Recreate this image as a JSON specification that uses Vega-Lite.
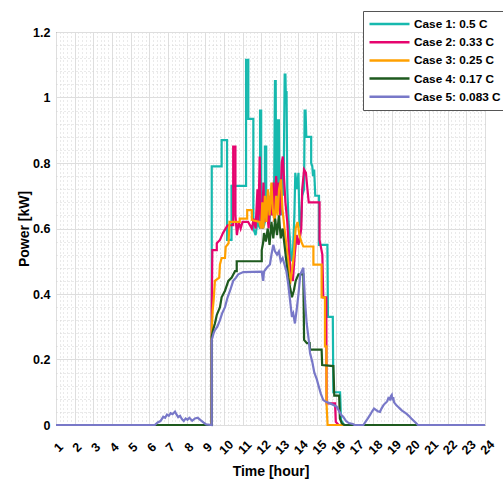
{
  "$schema": "https://vega.github.io/schema/vega-lite/v6.json",
  "width": 429,
  "height": 393,
  "autosize": {"type": "none"},
  "padding": {"left": 56, "top": 32, "right": 18, "bottom": 55},
  "background": "white",
  "config": {
    "view": {"stroke": "#404040", "strokeWidth": 1},
    "font": "Liberation Sans",
    "axis": {
      "labelFont": "Liberation Sans",
      "labelFontWeight": "bold",
      "labelFontSize": 12.5,
      "labelColor": "#000000",
      "titleFont": "Liberation Sans",
      "titleFontWeight": "bold",
      "titleFontSize": 14,
      "titleColor": "#000000",
      "domain": false,
      "ticks": false
    }
  },
  "data": {
    "values": [
      {"case": "Case 1: 0.5 C", "hour": 1, "kw": 0},
      {"case": "Case 1: 0.5 C", "hour": 9.35, "kw": 0},
      {"case": "Case 1: 0.5 C", "hour": 9.35, "kw": 0.79},
      {"case": "Case 1: 0.5 C", "hour": 9.88, "kw": 0.79},
      {"case": "Case 1: 0.5 C", "hour": 9.88, "kw": 0.87},
      {"case": "Case 1: 0.5 C", "hour": 10.17, "kw": 0.87},
      {"case": "Case 1: 0.5 C", "hour": 10.17, "kw": 0.565},
      {"case": "Case 1: 0.5 C", "hour": 10.41, "kw": 0.565},
      {"case": "Case 1: 0.5 C", "hour": 10.41, "kw": 0.73},
      {"case": "Case 1: 0.5 C", "hour": 11.19, "kw": 0.73},
      {"case": "Case 1: 0.5 C", "hour": 11.19, "kw": 1.115},
      {"case": "Case 1: 0.5 C", "hour": 11.31, "kw": 1.115},
      {"case": "Case 1: 0.5 C", "hour": 11.31, "kw": 0.935},
      {"case": "Case 1: 0.5 C", "hour": 11.58, "kw": 0.935},
      {"case": "Case 1: 0.5 C", "hour": 11.58, "kw": 0.6},
      {"case": "Case 1: 0.5 C", "hour": 11.7, "kw": 0.58},
      {"case": "Case 1: 0.5 C", "hour": 11.8, "kw": 0.62},
      {"case": "Case 1: 0.5 C", "hour": 11.94, "kw": 0.6},
      {"case": "Case 1: 0.5 C", "hour": 11.94, "kw": 0.96},
      {"case": "Case 1: 0.5 C", "hour": 12.0, "kw": 0.96},
      {"case": "Case 1: 0.5 C", "hour": 12.0, "kw": 0.64},
      {"case": "Case 1: 0.5 C", "hour": 12.1, "kw": 0.6},
      {"case": "Case 1: 0.5 C", "hour": 12.2, "kw": 0.62},
      {"case": "Case 1: 0.5 C", "hour": 12.2, "kw": 0.85},
      {"case": "Case 1: 0.5 C", "hour": 12.27, "kw": 0.85},
      {"case": "Case 1: 0.5 C", "hour": 12.27, "kw": 0.63},
      {"case": "Case 1: 0.5 C", "hour": 12.38, "kw": 0.68},
      {"case": "Case 1: 0.5 C", "hour": 12.45, "kw": 0.62},
      {"case": "Case 1: 0.5 C", "hour": 12.55, "kw": 0.72},
      {"case": "Case 1: 0.5 C", "hour": 12.62, "kw": 0.64},
      {"case": "Case 1: 0.5 C", "hour": 12.7, "kw": 0.75},
      {"case": "Case 1: 0.5 C", "hour": 12.74, "kw": 1.05},
      {"case": "Case 1: 0.5 C", "hour": 12.78, "kw": 1.05},
      {"case": "Case 1: 0.5 C", "hour": 12.8, "kw": 0.72},
      {"case": "Case 1: 0.5 C", "hour": 12.86, "kw": 0.66},
      {"case": "Case 1: 0.5 C", "hour": 12.9, "kw": 0.93},
      {"case": "Case 1: 0.5 C", "hour": 12.95, "kw": 0.93},
      {"case": "Case 1: 0.5 C", "hour": 12.98, "kw": 0.7},
      {"case": "Case 1: 0.5 C", "hour": 13.05, "kw": 0.64},
      {"case": "Case 1: 0.5 C", "hour": 13.12, "kw": 0.78},
      {"case": "Case 1: 0.5 C", "hour": 13.2, "kw": 0.7},
      {"case": "Case 1: 0.5 C", "hour": 13.26, "kw": 1.07},
      {"case": "Case 1: 0.5 C", "hour": 13.3, "kw": 1.07},
      {"case": "Case 1: 0.5 C", "hour": 13.33, "kw": 0.98},
      {"case": "Case 1: 0.5 C", "hour": 13.36, "kw": 1.02},
      {"case": "Case 1: 0.5 C", "hour": 13.4, "kw": 0.72},
      {"case": "Case 1: 0.5 C", "hour": 13.47, "kw": 0.62},
      {"case": "Case 1: 0.5 C", "hour": 13.55, "kw": 0.56},
      {"case": "Case 1: 0.5 C", "hour": 13.62, "kw": 0.5},
      {"case": "Case 1: 0.5 C", "hour": 13.7, "kw": 0.52},
      {"case": "Case 1: 0.5 C", "hour": 13.78, "kw": 0.64},
      {"case": "Case 1: 0.5 C", "hour": 13.83, "kw": 0.77},
      {"case": "Case 1: 0.5 C", "hour": 13.92, "kw": 0.72},
      {"case": "Case 1: 0.5 C", "hour": 14.0, "kw": 0.77},
      {"case": "Case 1: 0.5 C", "hour": 14.05, "kw": 0.62},
      {"case": "Case 1: 0.5 C", "hour": 14.12, "kw": 0.6},
      {"case": "Case 1: 0.5 C", "hour": 14.2, "kw": 0.7},
      {"case": "Case 1: 0.5 C", "hour": 14.3, "kw": 0.72},
      {"case": "Case 1: 0.5 C", "hour": 14.33, "kw": 0.96},
      {"case": "Case 1: 0.5 C", "hour": 14.38, "kw": 0.96},
      {"case": "Case 1: 0.5 C", "hour": 14.42, "kw": 0.88},
      {"case": "Case 1: 0.5 C", "hour": 14.68, "kw": 0.88},
      {"case": "Case 1: 0.5 C", "hour": 14.68, "kw": 0.8},
      {"case": "Case 1: 0.5 C", "hour": 14.74, "kw": 0.79},
      {"case": "Case 1: 0.5 C", "hour": 14.78, "kw": 0.76},
      {"case": "Case 1: 0.5 C", "hour": 14.84, "kw": 0.78},
      {"case": "Case 1: 0.5 C", "hour": 14.9, "kw": 0.7},
      {"case": "Case 1: 0.5 C", "hour": 15.1, "kw": 0.7},
      {"case": "Case 1: 0.5 C", "hour": 15.1, "kw": 0.55},
      {"case": "Case 1: 0.5 C", "hour": 15.55, "kw": 0.55},
      {"case": "Case 1: 0.5 C", "hour": 15.58, "kw": 0.33},
      {"case": "Case 1: 0.5 C", "hour": 15.84, "kw": 0.33},
      {"case": "Case 1: 0.5 C", "hour": 15.87, "kw": 0.1},
      {"case": "Case 1: 0.5 C", "hour": 16.23, "kw": 0.1},
      {"case": "Case 1: 0.5 C", "hour": 16.28, "kw": 0.015},
      {"case": "Case 1: 0.5 C", "hour": 16.45, "kw": 0},
      {"case": "Case 1: 0.5 C", "hour": 24, "kw": 0},

      {"case": "Case 2: 0.33 C", "hour": 1, "kw": 0},
      {"case": "Case 2: 0.33 C", "hour": 9.35, "kw": 0},
      {"case": "Case 2: 0.33 C", "hour": 9.35, "kw": 0.35},
      {"case": "Case 2: 0.33 C", "hour": 9.38, "kw": 0.534},
      {"case": "Case 2: 0.33 C", "hour": 9.62, "kw": 0.534},
      {"case": "Case 2: 0.33 C", "hour": 9.62, "kw": 0.555},
      {"case": "Case 2: 0.33 C", "hour": 9.79, "kw": 0.565},
      {"case": "Case 2: 0.33 C", "hour": 9.95, "kw": 0.586},
      {"case": "Case 2: 0.33 C", "hour": 10.2, "kw": 0.61},
      {"case": "Case 2: 0.33 C", "hour": 10.5, "kw": 0.61},
      {"case": "Case 2: 0.33 C", "hour": 10.5, "kw": 0.85},
      {"case": "Case 2: 0.33 C", "hour": 10.62, "kw": 0.85},
      {"case": "Case 2: 0.33 C", "hour": 10.62, "kw": 0.64},
      {"case": "Case 2: 0.33 C", "hour": 10.7, "kw": 0.58},
      {"case": "Case 2: 0.33 C", "hour": 10.8, "kw": 0.62},
      {"case": "Case 2: 0.33 C", "hour": 10.9, "kw": 0.6},
      {"case": "Case 2: 0.33 C", "hour": 11.0, "kw": 0.62},
      {"case": "Case 2: 0.33 C", "hour": 11.3, "kw": 0.62},
      {"case": "Case 2: 0.33 C", "hour": 11.5, "kw": 0.6},
      {"case": "Case 2: 0.33 C", "hour": 11.6, "kw": 0.63},
      {"case": "Case 2: 0.33 C", "hour": 11.7, "kw": 0.6},
      {"case": "Case 2: 0.33 C", "hour": 11.8, "kw": 0.72},
      {"case": "Case 2: 0.33 C", "hour": 11.85, "kw": 0.62},
      {"case": "Case 2: 0.33 C", "hour": 11.92, "kw": 0.82},
      {"case": "Case 2: 0.33 C", "hour": 11.97, "kw": 0.65},
      {"case": "Case 2: 0.33 C", "hour": 12.05, "kw": 0.6},
      {"case": "Case 2: 0.33 C", "hour": 12.12, "kw": 0.74},
      {"case": "Case 2: 0.33 C", "hour": 12.18, "kw": 0.62},
      {"case": "Case 2: 0.33 C", "hour": 12.3, "kw": 0.66},
      {"case": "Case 2: 0.33 C", "hour": 12.4, "kw": 0.6},
      {"case": "Case 2: 0.33 C", "hour": 12.5, "kw": 0.7},
      {"case": "Case 2: 0.33 C", "hour": 12.58, "kw": 0.64},
      {"case": "Case 2: 0.33 C", "hour": 12.65, "kw": 0.74},
      {"case": "Case 2: 0.33 C", "hour": 12.72, "kw": 0.62},
      {"case": "Case 2: 0.33 C", "hour": 12.8, "kw": 0.76},
      {"case": "Case 2: 0.33 C", "hour": 12.87, "kw": 0.7},
      {"case": "Case 2: 0.33 C", "hour": 12.95, "kw": 0.74},
      {"case": "Case 2: 0.33 C", "hour": 13.02, "kw": 0.64},
      {"case": "Case 2: 0.33 C", "hour": 13.1, "kw": 0.8},
      {"case": "Case 2: 0.33 C", "hour": 13.16, "kw": 0.82},
      {"case": "Case 2: 0.33 C", "hour": 13.22, "kw": 0.76},
      {"case": "Case 2: 0.33 C", "hour": 13.3, "kw": 0.68},
      {"case": "Case 2: 0.33 C", "hour": 13.4, "kw": 0.62},
      {"case": "Case 2: 0.33 C", "hour": 13.5, "kw": 0.52},
      {"case": "Case 2: 0.33 C", "hour": 13.6, "kw": 0.46},
      {"case": "Case 2: 0.33 C", "hour": 13.7, "kw": 0.44},
      {"case": "Case 2: 0.33 C", "hour": 13.8, "kw": 0.52},
      {"case": "Case 2: 0.33 C", "hour": 13.9, "kw": 0.58},
      {"case": "Case 2: 0.33 C", "hour": 14.0, "kw": 0.55},
      {"case": "Case 2: 0.33 C", "hour": 14.1, "kw": 0.58},
      {"case": "Case 2: 0.33 C", "hour": 14.15, "kw": 0.6},
      {"case": "Case 2: 0.33 C", "hour": 14.2, "kw": 0.72},
      {"case": "Case 2: 0.33 C", "hour": 14.3, "kw": 0.78},
      {"case": "Case 2: 0.33 C", "hour": 14.4, "kw": 0.77},
      {"case": "Case 2: 0.33 C", "hour": 14.48, "kw": 0.72},
      {"case": "Case 2: 0.33 C", "hour": 14.55, "kw": 0.68},
      {"case": "Case 2: 0.33 C", "hour": 15.13, "kw": 0.68},
      {"case": "Case 2: 0.33 C", "hour": 15.13, "kw": 0.565},
      {"case": "Case 2: 0.33 C", "hour": 15.28, "kw": 0.52},
      {"case": "Case 2: 0.33 C", "hour": 15.33, "kw": 0.39},
      {"case": "Case 2: 0.33 C", "hour": 15.49, "kw": 0.39},
      {"case": "Case 2: 0.33 C", "hour": 15.51, "kw": 0.066},
      {"case": "Case 2: 0.33 C", "hour": 15.96, "kw": 0.066},
      {"case": "Case 2: 0.33 C", "hour": 16.0, "kw": 0.01},
      {"case": "Case 2: 0.33 C", "hour": 16.15, "kw": 0},
      {"case": "Case 2: 0.33 C", "hour": 24, "kw": 0},

      {"case": "Case 3: 0.25 C", "hour": 1, "kw": 0},
      {"case": "Case 3: 0.25 C", "hour": 9.35, "kw": 0},
      {"case": "Case 3: 0.25 C", "hour": 9.35, "kw": 0.29},
      {"case": "Case 3: 0.25 C", "hour": 9.4, "kw": 0.35},
      {"case": "Case 3: 0.25 C", "hour": 9.45, "kw": 0.38},
      {"case": "Case 3: 0.25 C", "hour": 9.52, "kw": 0.44},
      {"case": "Case 3: 0.25 C", "hour": 9.75, "kw": 0.45},
      {"case": "Case 3: 0.25 C", "hour": 9.79, "kw": 0.49},
      {"case": "Case 3: 0.25 C", "hour": 9.88, "kw": 0.51},
      {"case": "Case 3: 0.25 C", "hour": 10.06, "kw": 0.51},
      {"case": "Case 3: 0.25 C", "hour": 10.1, "kw": 0.544},
      {"case": "Case 3: 0.25 C", "hour": 10.25, "kw": 0.555},
      {"case": "Case 3: 0.25 C", "hour": 10.3, "kw": 0.62},
      {"case": "Case 3: 0.25 C", "hour": 10.85, "kw": 0.62},
      {"case": "Case 3: 0.25 C", "hour": 10.85, "kw": 0.63},
      {"case": "Case 3: 0.25 C", "hour": 11.25, "kw": 0.63},
      {"case": "Case 3: 0.25 C", "hour": 11.25, "kw": 0.656},
      {"case": "Case 3: 0.25 C", "hour": 11.5, "kw": 0.656},
      {"case": "Case 3: 0.25 C", "hour": 11.5, "kw": 0.626},
      {"case": "Case 3: 0.25 C", "hour": 11.9, "kw": 0.62},
      {"case": "Case 3: 0.25 C", "hour": 12.0, "kw": 0.6},
      {"case": "Case 3: 0.25 C", "hour": 12.06, "kw": 0.68},
      {"case": "Case 3: 0.25 C", "hour": 12.12, "kw": 0.6},
      {"case": "Case 3: 0.25 C", "hour": 12.2, "kw": 0.7},
      {"case": "Case 3: 0.25 C", "hour": 12.28, "kw": 0.62},
      {"case": "Case 3: 0.25 C", "hour": 12.36, "kw": 0.72},
      {"case": "Case 3: 0.25 C", "hour": 12.45, "kw": 0.64},
      {"case": "Case 3: 0.25 C", "hour": 12.55, "kw": 0.74},
      {"case": "Case 3: 0.25 C", "hour": 12.62, "kw": 0.66},
      {"case": "Case 3: 0.25 C", "hour": 12.72, "kw": 0.62},
      {"case": "Case 3: 0.25 C", "hour": 12.8, "kw": 0.7},
      {"case": "Case 3: 0.25 C", "hour": 12.88, "kw": 0.64},
      {"case": "Case 3: 0.25 C", "hour": 12.96, "kw": 0.72},
      {"case": "Case 3: 0.25 C", "hour": 13.06, "kw": 0.75},
      {"case": "Case 3: 0.25 C", "hour": 13.14, "kw": 0.66},
      {"case": "Case 3: 0.25 C", "hour": 13.25, "kw": 0.6},
      {"case": "Case 3: 0.25 C", "hour": 13.35, "kw": 0.55},
      {"case": "Case 3: 0.25 C", "hour": 13.45, "kw": 0.5},
      {"case": "Case 3: 0.25 C", "hour": 13.55, "kw": 0.43},
      {"case": "Case 3: 0.25 C", "hour": 13.65, "kw": 0.47},
      {"case": "Case 3: 0.25 C", "hour": 13.75, "kw": 0.52},
      {"case": "Case 3: 0.25 C", "hour": 13.85, "kw": 0.6},
      {"case": "Case 3: 0.25 C", "hour": 13.95, "kw": 0.62},
      {"case": "Case 3: 0.25 C", "hour": 14.05, "kw": 0.58},
      {"case": "Case 3: 0.25 C", "hour": 14.15, "kw": 0.56},
      {"case": "Case 3: 0.25 C", "hour": 14.26, "kw": 0.545},
      {"case": "Case 3: 0.25 C", "hour": 14.8, "kw": 0.545},
      {"case": "Case 3: 0.25 C", "hour": 14.8, "kw": 0.49},
      {"case": "Case 3: 0.25 C", "hour": 15.24, "kw": 0.49},
      {"case": "Case 3: 0.25 C", "hour": 15.24, "kw": 0.39},
      {"case": "Case 3: 0.25 C", "hour": 15.42, "kw": 0.39},
      {"case": "Case 3: 0.25 C", "hour": 15.42, "kw": 0.24},
      {"case": "Case 3: 0.25 C", "hour": 15.5, "kw": 0.24},
      {"case": "Case 3: 0.25 C", "hour": 15.5, "kw": 0.07},
      {"case": "Case 3: 0.25 C", "hour": 15.56, "kw": 0},
      {"case": "Case 3: 0.25 C", "hour": 24, "kw": 0},

      {"case": "Case 4: 0.17 C", "hour": 1, "kw": 0},
      {"case": "Case 4: 0.17 C", "hour": 9.35, "kw": 0},
      {"case": "Case 4: 0.17 C", "hour": 9.35, "kw": 0.27},
      {"case": "Case 4: 0.17 C", "hour": 9.42, "kw": 0.29},
      {"case": "Case 4: 0.17 C", "hour": 9.52, "kw": 0.31},
      {"case": "Case 4: 0.17 C", "hour": 9.62, "kw": 0.336},
      {"case": "Case 4: 0.17 C", "hour": 9.79, "kw": 0.36},
      {"case": "Case 4: 0.17 C", "hour": 9.88, "kw": 0.39},
      {"case": "Case 4: 0.17 C", "hour": 10.06, "kw": 0.41},
      {"case": "Case 4: 0.17 C", "hour": 10.24, "kw": 0.44},
      {"case": "Case 4: 0.17 C", "hour": 10.42, "kw": 0.45},
      {"case": "Case 4: 0.17 C", "hour": 10.6, "kw": 0.47},
      {"case": "Case 4: 0.17 C", "hour": 10.69, "kw": 0.47},
      {"case": "Case 4: 0.17 C", "hour": 10.69, "kw": 0.5},
      {"case": "Case 4: 0.17 C", "hour": 12.03, "kw": 0.5},
      {"case": "Case 4: 0.17 C", "hour": 12.03, "kw": 0.534},
      {"case": "Case 4: 0.17 C", "hour": 12.1, "kw": 0.555},
      {"case": "Case 4: 0.17 C", "hour": 12.15, "kw": 0.586},
      {"case": "Case 4: 0.17 C", "hour": 12.25, "kw": 0.56},
      {"case": "Case 4: 0.17 C", "hour": 12.35, "kw": 0.6},
      {"case": "Case 4: 0.17 C", "hour": 12.45, "kw": 0.55},
      {"case": "Case 4: 0.17 C", "hour": 12.55, "kw": 0.62},
      {"case": "Case 4: 0.17 C", "hour": 12.65, "kw": 0.57},
      {"case": "Case 4: 0.17 C", "hour": 12.75, "kw": 0.63},
      {"case": "Case 4: 0.17 C", "hour": 12.85, "kw": 0.58},
      {"case": "Case 4: 0.17 C", "hour": 12.95, "kw": 0.64},
      {"case": "Case 4: 0.17 C", "hour": 13.05, "kw": 0.57},
      {"case": "Case 4: 0.17 C", "hour": 13.15, "kw": 0.6},
      {"case": "Case 4: 0.17 C", "hour": 13.25, "kw": 0.55},
      {"case": "Case 4: 0.17 C", "hour": 13.35, "kw": 0.5},
      {"case": "Case 4: 0.17 C", "hour": 13.45, "kw": 0.45},
      {"case": "Case 4: 0.17 C", "hour": 13.55, "kw": 0.42},
      {"case": "Case 4: 0.17 C", "hour": 13.65, "kw": 0.39},
      {"case": "Case 4: 0.17 C", "hour": 13.75, "kw": 0.41},
      {"case": "Case 4: 0.17 C", "hour": 13.85, "kw": 0.44},
      {"case": "Case 4: 0.17 C", "hour": 14.0, "kw": 0.46},
      {"case": "Case 4: 0.17 C", "hour": 14.26, "kw": 0.46},
      {"case": "Case 4: 0.17 C", "hour": 14.3, "kw": 0.26},
      {"case": "Case 4: 0.17 C", "hour": 14.45, "kw": 0.25},
      {"case": "Case 4: 0.17 C", "hour": 14.6, "kw": 0.25},
      {"case": "Case 4: 0.17 C", "hour": 14.62, "kw": 0.23},
      {"case": "Case 4: 0.17 C", "hour": 15.24, "kw": 0.23},
      {"case": "Case 4: 0.17 C", "hour": 15.27, "kw": 0.183},
      {"case": "Case 4: 0.17 C", "hour": 15.87, "kw": 0.18},
      {"case": "Case 4: 0.17 C", "hour": 15.92, "kw": 0.09},
      {"case": "Case 4: 0.17 C", "hour": 16.18, "kw": 0.09},
      {"case": "Case 4: 0.17 C", "hour": 16.22, "kw": 0.02},
      {"case": "Case 4: 0.17 C", "hour": 16.32, "kw": 0.005},
      {"case": "Case 4: 0.17 C", "hour": 16.45, "kw": 0},
      {"case": "Case 4: 0.17 C", "hour": 24, "kw": 0},

      {"case": "Case 5: 0.083 C", "hour": 1, "kw": 0},
      {"case": "Case 5: 0.083 C", "hour": 6.3, "kw": 0},
      {"case": "Case 5: 0.083 C", "hour": 6.45, "kw": 0.008},
      {"case": "Case 5: 0.083 C", "hour": 6.6, "kw": 0.012},
      {"case": "Case 5: 0.083 C", "hour": 6.75, "kw": 0.025},
      {"case": "Case 5: 0.083 C", "hour": 6.85, "kw": 0.022},
      {"case": "Case 5: 0.083 C", "hour": 6.95, "kw": 0.032},
      {"case": "Case 5: 0.083 C", "hour": 7.05, "kw": 0.028},
      {"case": "Case 5: 0.083 C", "hour": 7.15, "kw": 0.036},
      {"case": "Case 5: 0.083 C", "hour": 7.25, "kw": 0.033},
      {"case": "Case 5: 0.083 C", "hour": 7.38, "kw": 0.041},
      {"case": "Case 5: 0.083 C", "hour": 7.45, "kw": 0.033},
      {"case": "Case 5: 0.083 C", "hour": 7.55, "kw": 0.024},
      {"case": "Case 5: 0.083 C", "hour": 7.65, "kw": 0.028},
      {"case": "Case 5: 0.083 C", "hour": 7.75, "kw": 0.018},
      {"case": "Case 5: 0.083 C", "hour": 7.85, "kw": 0.012},
      {"case": "Case 5: 0.083 C", "hour": 7.95, "kw": 0.02},
      {"case": "Case 5: 0.083 C", "hour": 8.05, "kw": 0.016},
      {"case": "Case 5: 0.083 C", "hour": 8.15, "kw": 0.022},
      {"case": "Case 5: 0.083 C", "hour": 8.3, "kw": 0.013},
      {"case": "Case 5: 0.083 C", "hour": 8.45, "kw": 0.02},
      {"case": "Case 5: 0.083 C", "hour": 8.6, "kw": 0.022},
      {"case": "Case 5: 0.083 C", "hour": 8.75, "kw": 0.015},
      {"case": "Case 5: 0.083 C", "hour": 8.9, "kw": 0.008},
      {"case": "Case 5: 0.083 C", "hour": 9.05, "kw": 0.002},
      {"case": "Case 5: 0.083 C", "hour": 9.35, "kw": 0},
      {"case": "Case 5: 0.083 C", "hour": 9.35, "kw": 0.26},
      {"case": "Case 5: 0.083 C", "hour": 9.45, "kw": 0.28},
      {"case": "Case 5: 0.083 C", "hour": 9.52, "kw": 0.29},
      {"case": "Case 5: 0.083 C", "hour": 9.65, "kw": 0.3},
      {"case": "Case 5: 0.083 C", "hour": 9.79, "kw": 0.32},
      {"case": "Case 5: 0.083 C", "hour": 9.9, "kw": 0.34},
      {"case": "Case 5: 0.083 C", "hour": 10.06, "kw": 0.36},
      {"case": "Case 5: 0.083 C", "hour": 10.2, "kw": 0.39},
      {"case": "Case 5: 0.083 C", "hour": 10.33, "kw": 0.41},
      {"case": "Case 5: 0.083 C", "hour": 10.5, "kw": 0.44},
      {"case": "Case 5: 0.083 C", "hour": 10.65, "kw": 0.45},
      {"case": "Case 5: 0.083 C", "hour": 10.77, "kw": 0.46},
      {"case": "Case 5: 0.083 C", "hour": 11.04, "kw": 0.467},
      {"case": "Case 5: 0.083 C", "hour": 12.03, "kw": 0.468},
      {"case": "Case 5: 0.083 C", "hour": 12.08, "kw": 0.45},
      {"case": "Case 5: 0.083 C", "hour": 12.11, "kw": 0.44},
      {"case": "Case 5: 0.083 C", "hour": 12.15, "kw": 0.468},
      {"case": "Case 5: 0.083 C", "hour": 12.3, "kw": 0.48},
      {"case": "Case 5: 0.083 C", "hour": 12.47, "kw": 0.49},
      {"case": "Case 5: 0.083 C", "hour": 12.55, "kw": 0.52},
      {"case": "Case 5: 0.083 C", "hour": 12.65, "kw": 0.55},
      {"case": "Case 5: 0.083 C", "hour": 12.74, "kw": 0.53},
      {"case": "Case 5: 0.083 C", "hour": 12.85, "kw": 0.52},
      {"case": "Case 5: 0.083 C", "hour": 12.95, "kw": 0.53},
      {"case": "Case 5: 0.083 C", "hour": 13.05, "kw": 0.5},
      {"case": "Case 5: 0.083 C", "hour": 13.15, "kw": 0.51},
      {"case": "Case 5: 0.083 C", "hour": 13.25, "kw": 0.49},
      {"case": "Case 5: 0.083 C", "hour": 13.35, "kw": 0.47},
      {"case": "Case 5: 0.083 C", "hour": 13.45, "kw": 0.43},
      {"case": "Case 5: 0.083 C", "hour": 13.55, "kw": 0.38},
      {"case": "Case 5: 0.083 C", "hour": 13.65, "kw": 0.33},
      {"case": "Case 5: 0.083 C", "hour": 13.72, "kw": 0.34},
      {"case": "Case 5: 0.083 C", "hour": 13.81, "kw": 0.31},
      {"case": "Case 5: 0.083 C", "hour": 13.9, "kw": 0.35},
      {"case": "Case 5: 0.083 C", "hour": 14.0, "kw": 0.4},
      {"case": "Case 5: 0.083 C", "hour": 14.1, "kw": 0.46},
      {"case": "Case 5: 0.083 C", "hour": 14.26, "kw": 0.48},
      {"case": "Case 5: 0.083 C", "hour": 14.35, "kw": 0.38},
      {"case": "Case 5: 0.083 C", "hour": 14.44, "kw": 0.31},
      {"case": "Case 5: 0.083 C", "hour": 14.55, "kw": 0.26},
      {"case": "Case 5: 0.083 C", "hour": 14.62, "kw": 0.22},
      {"case": "Case 5: 0.083 C", "hour": 14.75, "kw": 0.19},
      {"case": "Case 5: 0.083 C", "hour": 14.85, "kw": 0.16},
      {"case": "Case 5: 0.083 C", "hour": 14.98, "kw": 0.14},
      {"case": "Case 5: 0.083 C", "hour": 15.1, "kw": 0.115},
      {"case": "Case 5: 0.083 C", "hour": 15.2, "kw": 0.095},
      {"case": "Case 5: 0.083 C", "hour": 15.33, "kw": 0.076},
      {"case": "Case 5: 0.083 C", "hour": 15.5, "kw": 0.07},
      {"case": "Case 5: 0.083 C", "hour": 15.7, "kw": 0.066},
      {"case": "Case 5: 0.083 C", "hour": 15.85, "kw": 0.062},
      {"case": "Case 5: 0.083 C", "hour": 16.05, "kw": 0.056},
      {"case": "Case 5: 0.083 C", "hour": 16.2, "kw": 0.04},
      {"case": "Case 5: 0.083 C", "hour": 16.3, "kw": 0.03},
      {"case": "Case 5: 0.083 C", "hour": 16.4, "kw": 0.025},
      {"case": "Case 5: 0.083 C", "hour": 16.55, "kw": 0.012},
      {"case": "Case 5: 0.083 C", "hour": 16.7, "kw": 0.006},
      {"case": "Case 5: 0.083 C", "hour": 16.92, "kw": 0.003},
      {"case": "Case 5: 0.083 C", "hour": 17.0, "kw": 0},
      {"case": "Case 5: 0.083 C", "hour": 17.48, "kw": 0},
      {"case": "Case 5: 0.083 C", "hour": 17.6, "kw": 0.01},
      {"case": "Case 5: 0.083 C", "hour": 17.72, "kw": 0.02},
      {"case": "Case 5: 0.083 C", "hour": 17.83, "kw": 0.03},
      {"case": "Case 5: 0.083 C", "hour": 17.95, "kw": 0.042},
      {"case": "Case 5: 0.083 C", "hour": 18.05, "kw": 0.05},
      {"case": "Case 5: 0.083 C", "hour": 18.15, "kw": 0.046},
      {"case": "Case 5: 0.083 C", "hour": 18.25, "kw": 0.042},
      {"case": "Case 5: 0.083 C", "hour": 18.37, "kw": 0.04},
      {"case": "Case 5: 0.083 C", "hour": 18.45, "kw": 0.05},
      {"case": "Case 5: 0.083 C", "hour": 18.55, "kw": 0.06},
      {"case": "Case 5: 0.083 C", "hour": 18.64, "kw": 0.066},
      {"case": "Case 5: 0.083 C", "hour": 18.75, "kw": 0.072},
      {"case": "Case 5: 0.083 C", "hour": 18.82, "kw": 0.082},
      {"case": "Case 5: 0.083 C", "hour": 18.9, "kw": 0.078},
      {"case": "Case 5: 0.083 C", "hour": 18.95, "kw": 0.088},
      {"case": "Case 5: 0.083 C", "hour": 19.0, "kw": 0.092},
      {"case": "Case 5: 0.083 C", "hour": 19.04, "kw": 0.075},
      {"case": "Case 5: 0.083 C", "hour": 19.08, "kw": 0.085},
      {"case": "Case 5: 0.083 C", "hour": 19.12, "kw": 0.07},
      {"case": "Case 5: 0.083 C", "hour": 19.17, "kw": 0.066},
      {"case": "Case 5: 0.083 C", "hour": 19.25, "kw": 0.06},
      {"case": "Case 5: 0.083 C", "hour": 19.35, "kw": 0.055},
      {"case": "Case 5: 0.083 C", "hour": 19.44, "kw": 0.05},
      {"case": "Case 5: 0.083 C", "hour": 19.55, "kw": 0.044},
      {"case": "Case 5: 0.083 C", "hour": 19.65, "kw": 0.04},
      {"case": "Case 5: 0.083 C", "hour": 19.8, "kw": 0.034},
      {"case": "Case 5: 0.083 C", "hour": 19.95, "kw": 0.026},
      {"case": "Case 5: 0.083 C", "hour": 20.05, "kw": 0.02},
      {"case": "Case 5: 0.083 C", "hour": 20.16, "kw": 0.014},
      {"case": "Case 5: 0.083 C", "hour": 20.3, "kw": 0.006},
      {"case": "Case 5: 0.083 C", "hour": 20.4, "kw": 0},
      {"case": "Case 5: 0.083 C", "hour": 24, "kw": 0}
    ]
  },
  "layer": [
    {
      "description": "Invisible layer that only carries the dotted minor grid",
      "mark": {"type": "point", "opacity": 0},
      "encoding": {
        "x": {
          "field": "hour", "type": "quantitative",
          "scale": {"domain": [1, 24], "nice": false, "zero": false},
          "axis": {
            "orient": "bottom", "title": null, "labels": false, "grid": true,
            "gridColor": "#d4d4d4", "gridDash": [1, 3], "gridWidth": 1,
            "values": [1.2,1.4,1.6,1.8,2.2,2.4,2.6,2.8,3.2,3.4,3.6,3.8,4.2,4.4,4.6,4.8,5.2,5.4,5.6,5.8,6.2,6.4,6.6,6.8,7.2,7.4,7.6,7.8,8.2,8.4,8.6,8.8,9.2,9.4,9.6,9.8,10.2,10.4,10.6,10.8,11.2,11.4,11.6,11.8,12.2,12.4,12.6,12.8,13.2,13.4,13.6,13.8,14.2,14.4,14.6,14.8,15.2,15.4,15.6,15.8,16.2,16.4,16.6,16.8,17.2,17.4,17.6,17.8,18.2,18.4,18.6,18.8,19.2,19.4,19.6,19.8,20.2,20.4,20.6,20.8,21.2,21.4,21.6,21.8,22.2,22.4,22.6,22.8,23.2,23.4,23.6,23.8]
          }
        },
        "y": {
          "field": "kw", "type": "quantitative",
          "scale": {"domain": [0, 1.2], "nice": false},
          "axis": {
            "orient": "left", "title": null, "labels": false, "grid": true,
            "gridColor": "#d4d4d4", "gridDash": [1, 3], "gridWidth": 1,
            "values": [0.04,0.08,0.12,0.16,0.24,0.28,0.32,0.36,0.44,0.48,0.52,0.56,0.64,0.68,0.72,0.76,0.84,0.88,0.92,0.96,1.04,1.08,1.12,1.16]
          }
        }
      }
    },
    {
      "mark": {"type": "line", "strokeWidth": 2.2, "interpolate": "linear"},
      "encoding": {
        "x": {
          "field": "hour", "type": "quantitative",
          "scale": {"domain": [1, 24], "nice": false, "zero": false},
          "axis": {
            "orient": "bottom", "title": "Time [hour]", "grid": true,
            "gridColor": "#dedede", "gridWidth": 1,
            "values": [1,2,3,4,5,6,7,8,9,10,11,12,13,14,15,16,17,18,19,20,21,22,23,24],
            "labelAngle": -45, "labelAlign": "center", "labelBaseline": "middle",
            "labelPadding": 22, "labelOffset": 2, "labelOverlap": false,
            "labelBound": false, "labelFlush": false, "titlePadding": 8
          }
        },
        "y": {
          "field": "kw", "type": "quantitative",
          "scale": {"domain": [0, 1.2], "nice": false},
          "axis": {
            "orient": "left", "title": "Power [kW]", "grid": true,
            "gridColor": "#dedede", "gridWidth": 1, "format": "~g",
            "values": [0, 0.2, 0.4, 0.6, 0.8, 1, 1.2],
            "labelPadding": 6, "labelFlush": false, "labelOverlap": false,
            "titlePadding": 1
          }
        },
        "color": {
          "field": "case", "type": "nominal",
          "scale": {
            "domain": ["Case 1: 0.5 C", "Case 2: 0.33 C", "Case 3: 0.25 C", "Case 4: 0.17 C", "Case 5: 0.083 C"],
            "range": ["#17B9AE", "#E6046E", "#FFA000", "#1E5A1E", "#7878C8"]
          },
          "legend": {
            "orient": "none", "legendX": 307, "legendY": -21, "title": null,
            "symbolType": "stroke", "symbolSize": 1600, "symbolStrokeWidth": 2.5,
            "labelFont": "Liberation Sans", "labelFontSize": 11.8, "labelFontWeight": "bold",
            "labelColor": "#000000", "labelOffset": 3, "labelLimit": 0,
            "padding": 5, "rowPadding": 2.2, "clipHeight": 16,
            "strokeColor": "#555555", "fillColor": "#ffffff"
          }
        },
        "order": {"value": null}
      }
    }
  ],
  "resolve": {"axis": {"x": "independent", "y": "independent"}}
}
